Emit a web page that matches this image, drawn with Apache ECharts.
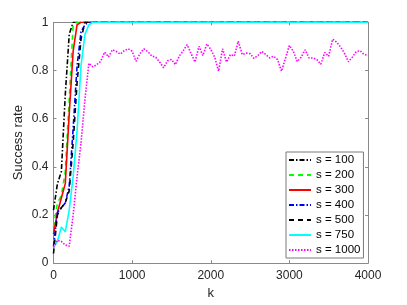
<!DOCTYPE html>
<html><head><meta charset="utf-8">
<script src="https://cdn.jsdelivr.net/npm/echarts@6/dist/echarts.min.js"></script>
<style>html,body{margin:0;padding:0;background:#fff}#c{width:407px;height:305px}</style>
</head><body><div id="c"></div>
<script>
// k values for the fast-converging series
const kSteps = [0, 50, 100, 150, 200, 250, 300, 350, 400, 450, 500, 4000];
const s100 = [0.22, 0.33, 0.38, 0.70, 0.95, 1, 1, 1, 1, 1, 1, 1];
const s200 = [0.15, 0.25, 0.28, 0.38, 0.68, 0.99, 1, 1, 1, 1, 1, 1];
const s300 = [0.12, 0.21, 0.27, 0.33, 0.62, 0.88, 0.99, 1, 1, 1, 1, 1];
const s400 = [0.07, 0.21, 0.23, 0.25, 0.32, 0.56, 0.82, 0.96, 0.99, 1, 1, 1];
const s500 = [0.04, 0.20, 0.23, 0.25, 0.30, 0.50, 0.75, 0.93, 1, 1, 1, 1];
const s750 = [0.065, 0.09, 0.15, 0.13, 0.22, 0.36, 0.55, 0.82, 0.95, 0.99, 1, 1];
// k values for s = 1000
const kFine = [0, 50, 100, 150, 200, 250, 300, 350, 400, 450, 500, 550, 600, 650, 700, 750, 800, 850, 900, 950,
  1000, 1050, 1100, 1150, 1200, 1250, 1300, 1350, 1400, 1450, 1500, 1550, 1600, 1650, 1700, 1750, 1800, 1850, 1900, 1950,
  2000, 2050, 2100, 2150, 2200, 2250, 2300, 2350, 2400, 2450, 2500, 2550, 2600, 2650, 2700, 2750, 2800, 2850, 2900, 2950,
  3000, 3050, 3100, 3150, 3200, 3250, 3300, 3350, 3400, 3450, 3500, 3550, 3600, 3650, 3700, 3750, 3800, 3850, 3900, 3950, 4000];
const s1000 = [0.065, 0.095, 0.09, 0.075, 0.07, 0.2, 0.36, 0.5, 0.68, 0.83, 0.815, 0.824, 0.838, 0.876, 0.856, 0.886, 0.879, 0.868, 0.882, 0.89,
  0.88, 0.838, 0.87, 0.89, 0.878, 0.86, 0.855, 0.835, 0.811, 0.84, 0.846, 0.824, 0.86, 0.882, 0.907, 0.87, 0.835, 0.9, 0.862, 0.91,
  0.888, 0.855, 0.797, 0.89, 0.835, 0.866, 0.86, 0.921, 0.866, 0.872, 0.87, 0.85, 0.862, 0.879, 0.866, 0.852, 0.859, 0.845, 0.797, 0.85,
  0.904, 0.88, 0.837, 0.855, 0.886, 0.852, 0.852, 0.845, 0.826, 0.875, 0.859, 0.93, 0.918, 0.898, 0.872, 0.836, 0.855, 0.878, 0.882, 0.866, 0.863];
const names = ['s = 100', 's = 200', 's = 300', 's = 400', 's = 500', 's = 750', 's = 1000'];
const xTicks = [0, 1000, 2000, 3000, 4000];

const FONT = 'Liberation Sans';
const AX = '#8a8a8a';
const TXT = '#262626';
const pairs = (ks, vs) => ks.map((k, i) => [k, vs[i]]);
const mk = (name, ks, vs, color, type) => ({
  name, type: 'line', data: pairs(ks, vs), symbol: 'none', showSymbol: false,
  lineStyle: { color, width: 1.6, type }, itemStyle: { color }
});
const chart = echarts.init(document.getElementById('c'));
const axBase = {
  axisLine: { show: true, onZero: false, lineStyle: { color: AX, width: 1 } },
  axisTick: { show: true, inside: true, length: 3, lineStyle: { color: AX } },
  splitLine: { show: false }
};
chart.setOption({
  animation: false,
  grid: { left: 53.5, top: 22.3, right: 39, bottom: 40 },
  xAxis: [
    Object.assign({}, axBase, {
      type: 'value', min: 0, max: 4000, interval: 1000, position: 'bottom',
      name: 'k', nameLocation: 'middle', nameGap: 20,
      nameTextStyle: { fontSize: 13, color: TXT, fontFamily: FONT },
      axisLabel: { margin: 7, fontSize: 12, color: TXT, fontFamily: FONT,
        formatter: v => xTicks.includes(v) ? String(v) : '' }
    }),
    Object.assign({}, axBase, {
      type: 'value', min: 0, max: 4000, interval: 1000, position: 'top',
      axisLabel: { show: false }
    })
  ],
  yAxis: [
    Object.assign({}, axBase, {
      type: 'value', min: 0, max: 1, interval: 0.2, position: 'left',
      name: 'Success rate', nameLocation: 'middle', nameGap: 29, nameMoveOverlap: false,
      nameTextStyle: { fontSize: 13, color: TXT, fontFamily: FONT },
      axisLabel: { margin: 5, fontSize: 12, color: TXT, fontFamily: FONT,
        formatter: v => (Math.abs(v) < 1e-9 ? '0' : Math.abs(v - 1) < 1e-9 ? '1' : v.toFixed(1)) }
    }),
    Object.assign({}, axBase, {
      type: 'value', min: 0, max: 1, interval: 0.2, position: 'right',
      axisLabel: { show: false }
    })
  ],
  legend: {
    orient: 'vertical', left: 286, top: 152,
    itemWidth: 22, itemHeight: 12, itemGap: 3,
    padding: [2, 3, 2, 2],
    borderColor: '#7a7a7a', borderWidth: 1, backgroundColor: '#fff', borderRadius: 0,
    itemStyle: { opacity: 0, borderWidth: 0 },
    textStyle: { fontSize: 11.5, color: '#000', fontFamily: FONT, lineHeight: 12 },
    data: names
  },
  series: [
    mk(names[0], kSteps, s100, '#000000', [5, 2, 1.5, 2]),
    mk(names[1], kSteps, s200, '#00ff00', [5, 4]),
    mk(names[2], kSteps, s300, '#ff0000', 'solid'),
    mk(names[3], kSteps, s400, '#0000ff', [5, 2, 1.5, 2]),
    mk(names[4], kSteps, s500, '#000000', [5, 4]),
    mk(names[5], kSteps, s750, '#00ffff', 'solid'),
    mk(names[6], kFine, s1000, '#ff00ff', [1.5, 1.5])
  ]
});
</script></body></html>
